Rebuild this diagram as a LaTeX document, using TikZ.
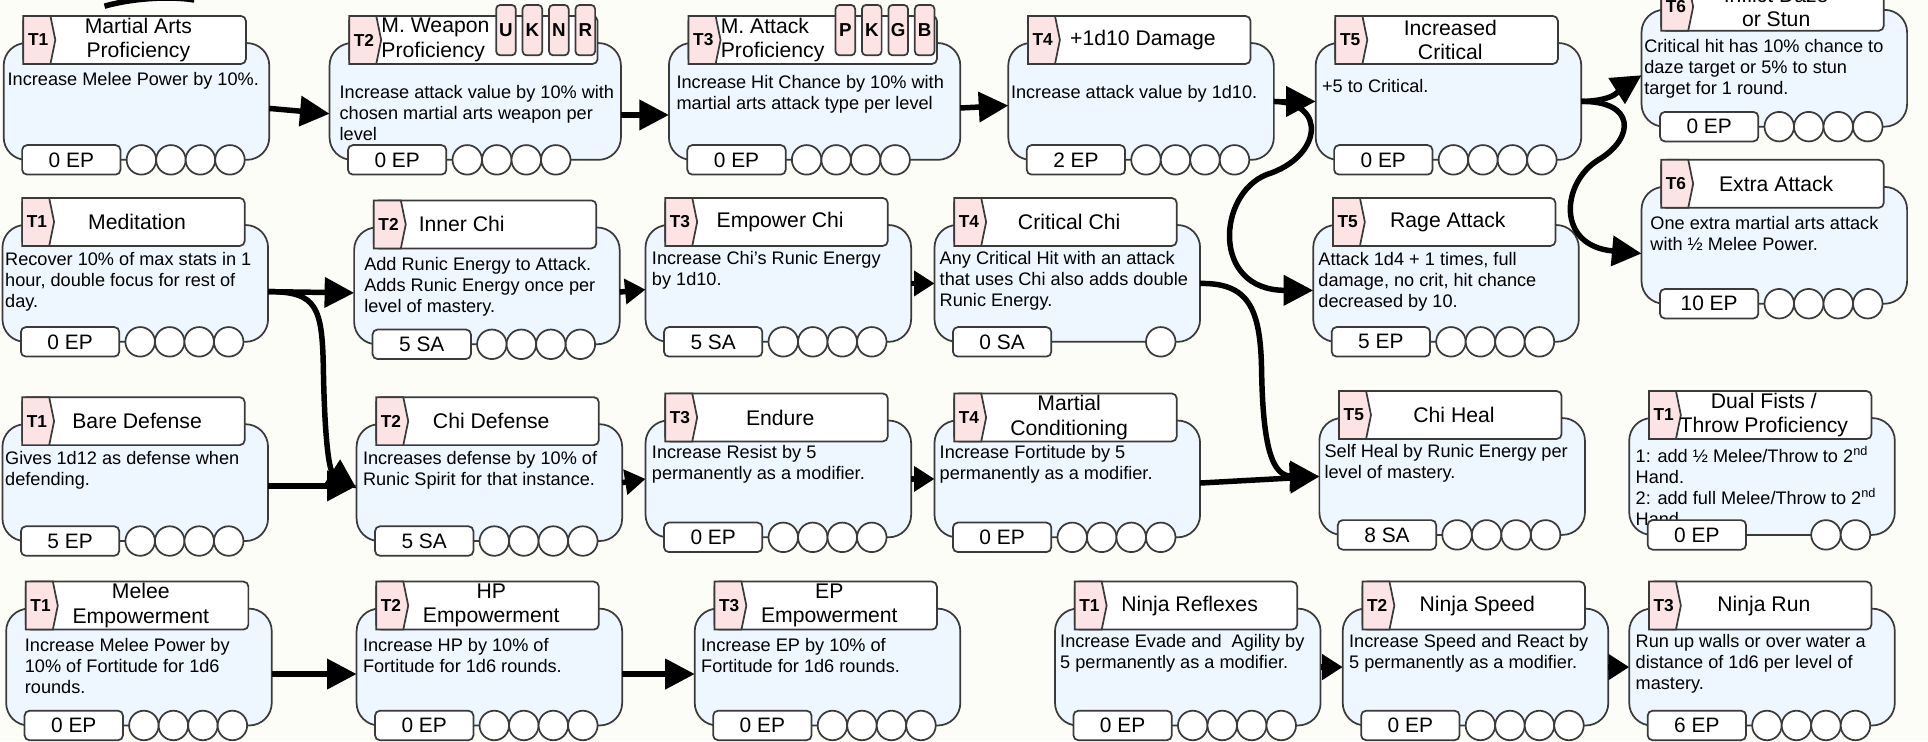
\documentclass[tikz,border=0pt]{standalone}
\usepackage{fontspec}
\setmainfont{Liberation Sans}
\usetikzlibrary{arrows.meta}

\definecolor{achtergrond}{RGB}{252,253,247}
\definecolor{kaartblauw}{RGB}{238,246,255}
\definecolor{tierroze}{RGB}{253,228,228}
\definecolor{rand}{RGB}{58,58,58}

\newcommand{\cardwd}{216}

\tikzset{
  cardbody/.style={draw=rand, line width=1.2pt, fill=kaartblauw, rounded corners=0.55cm, anchor=north west, inner sep=0pt, outer sep=0pt, minimum height=95*0.03cm},
  titlebar/.style={draw=rand, line width=1.2pt, fill=white, rounded corners=0.12cm, anchor=north west, inner sep=0pt, outer sep=0pt, minimum height=39*0.03cm},
  tierbox/.style={draw=rand, line width=1.2pt, fill=tierroze},
  tiertext/.style={font=\fontsize{12}{13}\selectfont\bfseries, inner sep=0pt},
  titletext/.style={font=\fontsize{14.7}{17}\selectfont, align=center, inner sep=0pt},
  cardtitle/.style={at={(\tx,-2.5)}},
  bodytext/.style={font=\fontsize{12.6}{14.6}\selectfont, align=left, anchor=north west, inner sep=0pt},
  costbox/.style={draw=rand, line width=1.2pt, fill=white, rounded corners=0.12cm, minimum width=80*0.03cm, minimum height=24*0.03cm, inner sep=0pt, font=\fontsize{14.5}{17}\selectfont},
  levelring/.style={circle, draw=rand, line width=1.2pt, fill=white, minimum size=24*0.03cm, inner sep=0pt},
  wpntab/.style={draw=rand, line width=1.2pt, fill=tierroze, rounded corners=0.1cm, minimum width=16*0.03cm, minimum height=41*0.03cm, inner sep=0pt, font=\fontsize{13}{13}\selectfont\bfseries},
  prereq/.style={line width=3.8pt, -{Triangle[length=0.72cm,width=0.72cm]}},
  shortprereq/.style={line width=3.8pt, -{Triangle[length=0.5cm,width=0.6cm]}},
}

% kaart: naam, positie, tier, titel, tekst, tekstpositie, kosten, bolletjes
\newcommand{\skillcard}[8]{%
  \begin{scope}[shift={(#2)}]
    \pgfmathsetmacro\tx{(\cardwd+23)/2-10}
    \node[cardbody, minimum width=\cardwd*0.03cm] (#1) at (0,0) {};
    \node[titlebar, minimum width=(\cardwd-35)*0.03cm] (#1t) at (16,-22) {};
    \draw[tierbox] (#1t.north west) -- ++(22,0) -- ++(4,19.5) -- ++(-4,19.5) -- (#1t.south west) -- cycle;
    \node[tiertext] (#1r) at (28,-2.5) {#3};
    \node[titletext, cardtitle] (#1n) {#4};
    \node[bodytext] (#1x) at (#6) {#5};
    \node[costbox] (#1c) at (55,95) {#7};
    \foreach \k in {#8} \node[levelring] (#1d\k) at ({88+24*\k},95) {};
  \end{scope}}

\begin{document}
\begin{tikzpicture}[x=0.03cm, y=-0.03cm]
\useasboundingbox (0,0) rectangle (1568,603);
\clip (0,0) rectangle (1568,603);
\fill[achtergrond] (0,0) rectangle (1568,603);

% boog bovenaan
\draw[line width=3.8pt] (85,5) .. controls (110,-2) and (140,-3) .. (158,0);

% eerste rij
\skillcard{masprof}{3,35}{T1}{Martial Arts\\Proficiency}{Increase Melee Power by 10\%.}{3,24}{0 EP}{1,2,3,4}
\begin{scope}
  \renewcommand{\cardwd}{237}
  \tikzset{cardtitle/.style={at={(42,-2.5)}, anchor=west, align=left}}
  \skillcard{wpnprof}{268,35}{T2}{M. Weapon\\Proficiency}{Increase attack value by 10\% with\\chosen martial arts weapon per\\level}{8,34}{0 EP}{1,2,3,4}
  \skillcard{atkprof}{544,35}{T3}{M. Attack\\Proficiency}{Increase Hit Chance by 10\% with\\martial arts attack type per level}{6,26}{0 EP}{1,2,3,4}
\end{scope}
\foreach \l [count=\i] in {U,K,N,R} \node[wpntab] (wpntab\l) at ({390+21.5*\i},24.5) {\l};
\foreach \l [count=\i] in {P,K,G,B} \node[wpntab] (atktab\l) at ({666+21.5*\i},24.5) {\l};
\skillcard{dmg}{820,35}{T4}{+1d10 Damage}{Increase attack value by 1d10.}{2,34}{2 EP}{1,2,3,4}
\skillcard{crit}{1070,35}{T5}{Increased\\Critical}{+5 to Critical.}{5,29}{0 EP}{1,2,3,4}
\skillcard{daze}{1335,8}{T6}{Inflict Daze\\or Stun}{Critical hit has 10\% chance to\\daze target or 5\% to stun\\target for 1 round.}{2,24}{0 EP}{1,2,3,4}
\skillcard{extra}{1335,152}{T6}{Extra Attack}{One extra martial arts attack\\with ½ Melee Power.}{7,24}{10 EP}{1,2,3,4}
\skillcard{rage}{1068,183}{T5}{Rage Attack}{Attack 1d4 + 1 times, full\\damage, no crit, hit chance\\decreased by 10.}{4,22}{5 EP}{1,2,3,4}

% tweede rij
\skillcard{medit}{2,183}{T1}{Meditation}{Recover 10\% of max stats in 1\\hour, double focus for rest of\\day.}{2,22}{0 EP}{1,2,3,4}
\begin{scope}
  \tikzset{cardtitle/.style={at={({\tx-22},-2.5)}}}
  \skillcard{innerchi}{288,185}{T2}{Inner Chi}{Add Runic Energy to Attack.\\Adds Runic Energy once per\\level of mastery.}{8,24}{5 SA}{1,2,3,4}
\end{scope}
\skillcard{empchi}{525,183}{T3}{Empower Chi}{Increase Chi’s Runic Energy\\by 1d10.}{5,21}{5 SA}{1,2,3,4}
\skillcard{critchi}{760,183}{T4}{Critical Chi}{Any Critical Hit with an attack\\that uses Chi also adds double\\Runic Energy.}{4,21}{0 SA}{4}

% derde rij
\skillcard{bare}{2,345}{T1}{Bare Defense}{Gives 1d12 as defense when\\defending.}{2,22}{5 EP}{1,2,3,4}
\skillcard{chidef}{290,345}{T2}{Chi Defense}{Increases defense by 10\% of\\Runic Spirit for that instance.}{5,22}{5 SA}{1,2,3,4}
\skillcard{endure}{525,342}{T3}{Endure}{Increase Resist by 5\\permanently as a modifier.}{5,20}{0 EP}{1,2,3,4}
\skillcard{cond}{760,342}{T4}{Martial\\Conditioning}{Increase Fortitude by 5\\permanently as a modifier.}{4,20}{0 EP}{1,2,3,4}
\skillcard{chiheal}{1073,340}{T5}{Chi Heal}{Self Heal by Runic Energy per\\level of mastery.}{4,21}{8 SA}{1,2,3,4}
\skillcard{dual}{1325,340}{T1}{Dual Fists /\\Throw Proficiency}{1: add ½ Melee/Throw to 2\textsuperscript{nd}\\Hand.\\2: add full Melee/Throw to 2\textsuperscript{nd}\\Hand.}{5,23}{0 EP}{3,4}

% vierde rij
\skillcard{meleeemp}{5,495}{T1}{Melee\\Empowerment}{Increase Melee Power by\\10\% of Fortitude for 1d6\\rounds.}{15,24}{0 EP}{1,2,3,4}
\skillcard{hpemp}{290,495}{T2}{HP\\Empowerment}{Increase HP by 10\% of\\Fortitude for 1d6 rounds.}{5,24}{0 EP}{1,2,3,4}
\skillcard{epemp}{565,495}{T3}{EP\\Empowerment}{Increase EP by 10\% of\\Fortitude for 1d6 rounds.}{5,24}{0 EP}{1,2,3,4}
\skillcard{reflex}{858,495}{T1}{Ninja Reflexes}{Increase Evade and~ Agility by\\5 permanently as a modifier.}{4,21}{0 EP}{1,2,3,4}
\skillcard{speed}{1092,495}{T2}{Ninja Speed}{Increase Speed and React by\\5 permanently as a modifier.}{5,21}{0 EP}{1,2,3,4}
\skillcard{run}{1325,495}{T3}{Ninja Run}{Run up walls or over water a\\distance of 1d6 per level of\\mastery.}{5,21}{6 EP}{1,2,3,4}

% pijlen
\draw[prereq] ([yshift=-0.17cm]masprof.east) -- ([yshift=-0.3cm]wpnprof.west);
\draw[prereq] ([yshift=-0.33cm]wpnprof.east) -- ([yshift=-0.33cm]atkprof.west);
\draw[prereq] ([yshift=-0.16cm]atkprof.east) -- ([yshift=-0.1cm]dmg.west);
\draw[prereq] (dmg.east) -- (crit.west);
\draw[prereq] (dmg.east) .. controls (1080,83) and (1075,128) .. (1030,142) .. controls (990,158) and (985,236) .. ([yshift=-0.17cm]rage.west);
\draw[prereq] (crit.east) .. controls (1315,82) and (1318,72) .. ([yshift=-0.17cm]daze.west);
\draw[prereq] (crit.east) .. controls (1330,82) and (1330,112) .. (1300,130) .. controls (1270,148) and (1265,200) .. ([yshift=-0.2cm]extra.west);

\draw[prereq] ([yshift=-0.2cm]medit.east) -- ([yshift=-0.17cm]innerchi.west);
\draw[prereq] ([yshift=-0.2cm]medit.east) .. controls (258,237) and (262,250) .. (263,300) .. controls (264,360) and (268,383) .. ([yshift=-0.14cm]chidef.west);
\draw[shortprereq] ([yshift=-0.15cm]innerchi.east) -- ([yshift=-0.15cm]empchi.west);
\draw[shortprereq] (empchi.east) -- (critchi.west);
\draw[prereq] (critchi.east) .. controls (1015,230) and (1025,250) .. (1026,300) .. controls (1027,365) and (1035,387) .. (chiheal.west);
\draw[prereq] ([yshift=-0.1cm]cond.east) -- (chiheal.west);

\draw[prereq] ([yshift=-0.08cm]bare.east) -- ([yshift=-0.08cm]chidef.west);
\draw[shortprereq] (chidef.east) -- (endure.west);
\draw[shortprereq] (endure.east) -- (cond.west);

\draw[prereq] ([yshift=-0.17cm]meleeemp.east) -- ([yshift=-0.17cm]hpemp.west);
\draw[prereq] ([yshift=-0.17cm]hpemp.east) -- ([yshift=-0.17cm]epemp.west);
\draw[shortprereq] (reflex.east) -- (speed.west);
\draw[shortprereq] (speed.east) -- (run.west);
\end{tikzpicture}
\end{document}
